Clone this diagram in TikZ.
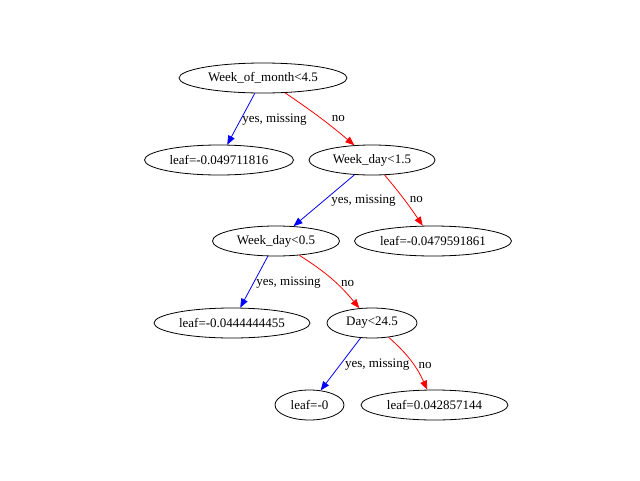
\documentclass[tikz,border=0pt]{standalone}
\usepackage{fontspec}
\setmainfont{Liberation Serif}
\usepackage{tikz}
\usetikzlibrary{positioning, shapes.geometric, arrows.meta}

\begin{document}
\begin{tikzpicture}[
        x=1pt, y=-1pt,
        split/.style={ellipse, draw, line width=0.8pt, inner sep=0pt, minimum height=30pt, font=\fontsize{13}{15}\selectfont},
        yes/.style={draw=blue, line width=0.8pt, -{Triangle[length=9pt, width=7pt, fill=blue]}},
        no/.style={draw=red, line width=0.8pt, -{Triangle[length=9pt, width=7pt, fill=red]}},
        lbl/.style={midway, inner sep=0pt, font=\fontsize{13}{15}\selectfont},
    ]
        \useasboundingbox (0, 0) rectangle (640, 480);
        % Splits and leaves
        \node[split, minimum width=168pt] (month) at (263, 78) {Week\_of\_month<4.5};
        \node[split, minimum width=149pt] (leafa) at (219, 160) {leaf=-0.049711816};
        \node[split, minimum width=126pt] (wdb) at (372, 160) {Week\_day<1.5};
        \node[split, minimum width=127pt] (wda) at (276, 241) {Week\_day<0.5};
        \node[split, minimum width=157pt] (leafb) at (433, 241) {leaf=-0.0479591861};
        \node[split, minimum width=156pt] (leafc) at (232, 323) {leaf=-0.0444444455};
        \node[split, minimum width=90pt] (day) at (372, 323) {Day<24.5};
        \node[split, minimum width=69pt] (leafd) at (309.5, 405) {leaf=-0};
        \node[split, minimum width=147pt] (leafe) at (434.5, 405) {leaf=0.042857144};

        % Branches
        \draw[yes] (month) -- (leafa) node[lbl, right=1pt, yshift=-1pt] {yes, missing};
        \draw[no] (month) to[bend left=3] node[lbl, right=11pt, yshift=-1pt] {no} (wdb);
        \draw[yes] (wdb) -- (wda) node[lbl, right=7pt] {yes, missing};
        \draw[no] (wdb) to[bend left=3] node[lbl, right=5pt] {no} (leafb);
        \draw[yes] (wda) -- (leafc) node[lbl, right=2pt, yshift=-1pt] {yes, missing};
        \draw[no] (wda) to[bend left=9] node[lbl, right=9pt, yshift=-4pt] {no} (day);
        \draw[yes] (day) -- (leafd) node[lbl, right=4pt] {yes, missing};
        \draw[no] (day) to[bend left=12] node[lbl, right=7pt, yshift=-4pt] {no} (leafe);
    \end{tikzpicture}
\end{document}
